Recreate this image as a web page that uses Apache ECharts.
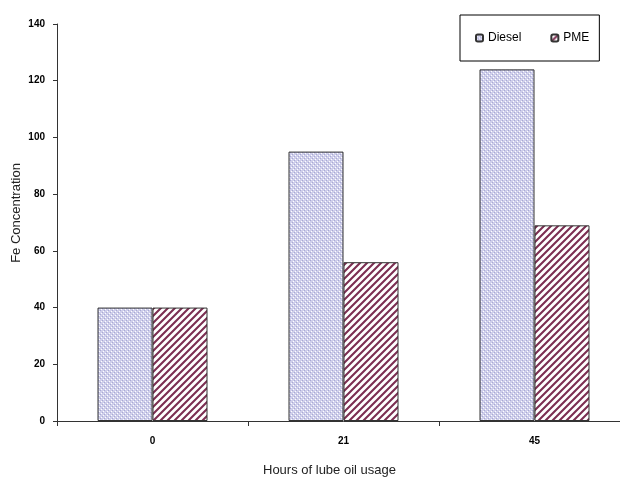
<!DOCTYPE html>
<html>
<head>
<meta charset="utf-8">
<script src="https://cdn.jsdelivr.net/npm/echarts@6/dist/echarts.min.js"></script>
<style>
html,body{margin:0;padding:0;background:#fff;overflow:hidden;}
#wrap{width:620px;height:478px;overflow:hidden;}
#chart{width:650px;height:478px;}
</style>
</head>
<body>
<div id="wrap"><div id="chart"></div></div>
<script>
var categories = ['0', '21', '45'];
var seriesNames = ['Diesel', 'PME'];
var dieselValues = [40, 95, 124];
var pmeValues = [40, 56, 69];
var yTicks = [0, 20, 40, 60, 80, 100, 120, 140];

function dieselPattern() {
  var c = document.createElement('canvas');
  c.width = 4; c.height = 4;
  var g = c.getContext('2d');
  g.fillStyle = '#cfcfeb';
  g.fillRect(0, 0, 4, 4);
  g.fillStyle = '#ffffff';
  g.fillRect(1, 1, 1, 1);
  g.fillRect(3, 3, 1, 1);
  g.fillStyle = '#a9a9d4';
  g.fillRect(0, 2, 1, 1);
  g.fillRect(2, 0, 1, 1);
  return c;
}
function pmePattern() {
  var s = 7;
  var c = document.createElement('canvas');
  c.width = s; c.height = s;
  var g = c.getContext('2d');
  g.fillStyle = '#ffffff';
  g.fillRect(0, 0, s, s);
  g.strokeStyle = '#7c2e52';
  g.lineWidth = 2.1;
  g.beginPath();
  g.moveTo(-2, s + 2); g.lineTo(s + 2, -2);
  g.moveTo(-2, 2); g.lineTo(2, -2);
  g.moveTo(s - 2, s + 2); g.lineTo(s + 2, s - 2);
  g.stroke();
  return c;
}

var chart = echarts.init(document.getElementById('chart'), null, {renderer: 'canvas', width: 650, height: 478});
var labelFont = {color: '#000', fontWeight: 'bold', fontSize: 10, fontFamily: 'Liberation Sans, Arial, sans-serif'};

chart.setOption({
  animation: false,
  backgroundColor: '#ffffff',
  grid: {left: 57, top: 24, width: 573, bottom: 57, containLabel: false},
  legend: {
    data: seriesNames,
    left: 460, top: 15,
    padding: [17, 10, 17, 15],
    itemWidth: 7, itemHeight: 7,
    itemGap: 29,
    borderColor: '#000', borderWidth: 1,
    textStyle: {color: '#000', fontSize: 12, fontFamily: 'Liberation Sans, Arial, sans-serif'}
  },
  xAxis: {
    type: 'category',
    data: categories,
    axisLine: {lineStyle: {color: '#333', width: 1}},
    axisTick: {show: true, inside: false, length: 5, alignWithLabel: false, lineStyle: {color: '#333'}},
    axisLabel: Object.assign({margin: 15}, labelFont),
    splitLine: {show: false}
  },
  yAxis: {
    type: 'value',
    min: 0, max: 140, interval: 20,
    axisLine: {show: true, lineStyle: {color: '#333', width: 1}},
    axisTick: {show: true, length: 4, lineStyle: {color: '#333'}},
    axisLabel: Object.assign({margin: 12, formatter: function (v) { return yTicks.indexOf(v) >= 0 ? String(v) : ''; }}, labelFont),
    splitLine: {show: false}
  },
  graphic: [
    {type: 'text', left: 263, top: 464, style: {text: 'Hours of lube oil usage', fill: '#222', fontSize: 13, fontFamily: 'Liberation Sans, Arial, sans-serif'}},
    {type: 'text', x: 16, y: 213, rotation: Math.PI / 2, style: {text: 'Fe Concentration', fill: '#222', fontSize: 13, fontFamily: 'Liberation Sans, Arial, sans-serif', align: 'center', verticalAlign: 'middle'}}
  ],
  series: [
    {
      name: seriesNames[0], type: 'bar', data: dieselValues,
      barWidth: 55, barGap: '0%',
      itemStyle: {color: {image: dieselPattern(), repeat: 'repeat'}, borderColor: '#333', borderWidth: 1}
    },
    {
      name: seriesNames[1], type: 'bar', data: pmeValues,
      barWidth: 55, barGap: '0%',
      itemStyle: {color: {image: pmePattern(), repeat: 'repeat'}, borderColor: '#333', borderWidth: 1}
    }
  ]
});
</script>
</body>
</html>
